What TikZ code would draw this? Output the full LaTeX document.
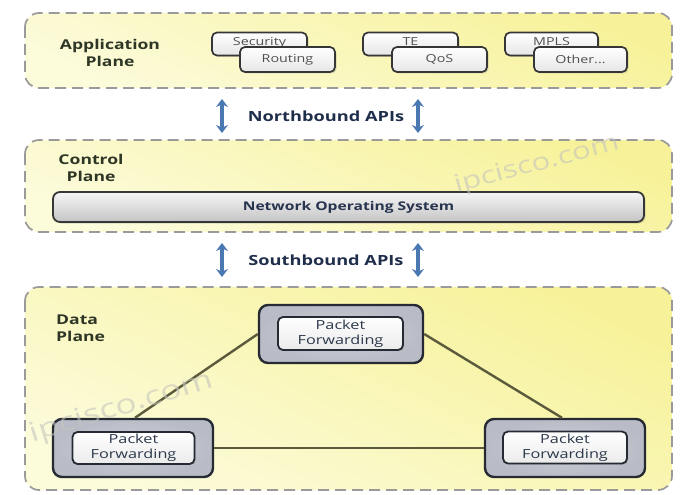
\documentclass[tikz,border=0pt]{standalone}
\usepackage{fontspec}
\setmainfont[FakeStretch=1.3]{Open Sans}
\usetikzlibrary{arrows.meta,shadows}

\definecolor{planeEdge}{HTML}{9A9A9A}
\definecolor{planeTop}{HTML}{F7F29A}
\definecolor{planeBot}{HTML}{FCFBDA}
\definecolor{labelInk}{HTML}{2E3626}
\definecolor{boxEdge}{HTML}{363636}
\definecolor{boxBot}{HTML}{E6E6E6}
\definecolor{boxInk}{HTML}{505050}
\definecolor{apiBlue}{HTML}{4A78B2}
\definecolor{apiInk}{HTML}{1F2E4A}
\definecolor{nosTop}{HTML}{F6F6F6}
\definecolor{nosBot}{HTML}{C4C4C4}
\definecolor{nosInk}{HTML}{283450}
\definecolor{pfOuter}{HTML}{B9BCC6}
\definecolor{pfEdge}{HTML}{262B33}
\definecolor{pfInk}{HTML}{2C394B}
\definecolor{linkCol}{HTML}{5B5A3C}
\definecolor{wmInk}{HTML}{C4C4BE}

\begin{document}
\begin{tikzpicture}[x=1pt,y=-1pt,
  plane/.style={draw=planeEdge, line width=1.7pt, dash pattern=on 11pt off 6pt,
    rounded corners=14pt, top color=planeTop, bottom color=planeBot, shading angle=-25},
  planelabel/.style={font=\bfseries\fontsize{13.5}{17}\selectfont, text=labelInk, align=center, inner sep=0pt},
  appbox/.style={draw=boxEdge, line width=1.7pt, rounded corners=5pt, top color=white, bottom color=boxBot,
    minimum width=95pt, minimum height=23pt, inner sep=0pt, font=\fontsize{11}{13}\selectfont, text=boxInk,
    drop shadow={shadow xshift=1.5pt, shadow yshift=-1.5pt, opacity=0.3}},
  backtext/.style={text depth=0pt, text height=0pt},
  api/.style={draw=apiBlue, line width=3.2pt, {Stealth[length=8pt,width=12pt]}-{Stealth[length=8pt,width=12pt]}},
  apitext/.style={font=\bfseries\fontsize{14}{16}\selectfont, text=apiInk, inner sep=0pt},
  nos/.style={draw=boxEdge, line width=1.8pt, rounded corners=7pt, top color=nosTop, bottom color=nosBot,
    minimum width=591pt, minimum height=30pt, inner sep=0pt, font=\bfseries\fontsize{12}{14}\selectfont, text=nosInk,
    drop shadow={shadow xshift=1.5pt, shadow yshift=-1.5pt, opacity=0.3}},
  pfbody/.style={draw=pfEdge, line width=2.4pt, rounded corners=9pt, inner color=pfOuter!70!white, outer color=pfOuter,
    minimum width=160pt, minimum height=58pt, inner sep=0pt},
  pfcard/.style={draw=pfEdge, line width=1.8pt, rounded corners=5pt, top color=white, bottom color=white!92!black,
    minimum width=122pt, minimum height=32pt, inner sep=0pt, align=center,
    font=\fontsize{12.5}{15}\selectfont, text=pfInk,
    drop shadow={shadow xshift=1.2pt, shadow yshift=-1.2pt, opacity=0.3}},
  link/.style={draw=linkCol, line width=2.4pt},
  wmark/.style={font=\fontsize{24}{24}\selectfont, text=wmInk, opacity=0.6, inner sep=0pt}
]
\useasboundingbox (0,0) rectangle (683,495);

% the three planes
\path[plane] (25,13) rectangle (672,88);
\path[plane] (25,140) rectangle (672,232);
\path[plane] (25,287) rectangle (672,490);

% plane titles
\node[planelabel] (appLbl) at (110,53) {Application\\Plane};
\node[planelabel] (ctlLbl) at (91,168) {Control\\Plane};
\node[planelabel, align=left, anchor=west] (dataLbl) at (56,328) {Data\\Plane};

% application modules, back row then front row
\node[appbox] (sec)   at (259.5,44)   {\raisebox{4.5pt}{Security}};
\node[appbox, minimum height=25pt] (route) at (287.5,59.5) {Routing};
\node[appbox] (te)    at (410.5,44)   {\raisebox{4.5pt}{TE}};
\node[appbox, minimum height=25pt] (qos)   at (439.5,59.5) {QoS};
\node[appbox, minimum width=93pt] (mpls)  at (551.5,44)   {\raisebox{4.5pt}{MPLS}};
\node[appbox, minimum width=93pt, minimum height=25pt] (other) at (580.5,59.5) {Other...};

% northbound interface
\coordinate (nbLa) at (222,99); \coordinate (nbLb) at (222,133);
\coordinate (nbRa) at (418,99); \coordinate (nbRb) at (418,133);
\draw[api] (nbLa) -- (nbLb);
\draw[api] (nbRa) -- (nbRb);
\node[apitext] (nb) at (326,116) {Northbound APIs};

% control plane
\node[nos] (nos) at (348.5,207) {Network Operating System};

% southbound interface
\coordinate (sbLa) at (222,243); \coordinate (sbLb) at (222,277);
\coordinate (sbRa) at (418,243); \coordinate (sbRb) at (418,277);
\draw[api] (sbLa) -- (sbLb);
\draw[api] (sbRa) -- (sbRb);
\node[apitext] (sb) at (326,260) {Southbound APIs};

% forwarding elements
\node[pfbody, minimum width=164pt] (pfT) at (341,334) {};
\node[pfbody] (pfL) at (133,448) {};
\node[pfbody] (pfR) at (565,448) {};
\node[pfcard, minimum width=125pt, minimum height=33pt] (pfTc) at (340.5,333.5) {Packet\\Forwarding};
\node[pfcard] (pfLc) at (133.5,448) {Packet\\Forwarding};
\node[pfcard, minimum width=124pt] (pfRc) at (565,447.5) {Packet\\Forwarding};

% links between forwarding elements
\draw[link] (pfT.west) -- ([xshift=2pt]pfL.north);
\draw[link] (pfT.east) -- ([xshift=-3pt]pfR.north);
\draw[link] (pfL.east) -- (pfR.west);

% watermarks
\node[wmark, rotate=15] (wm1) at (537,165) {ipcisco.com};
\node[wmark, rotate=17, font=\fontsize{27}{27}\selectfont] (wm2) at (122,408) {ipcisco.com};
\end{tikzpicture}
\end{document}
